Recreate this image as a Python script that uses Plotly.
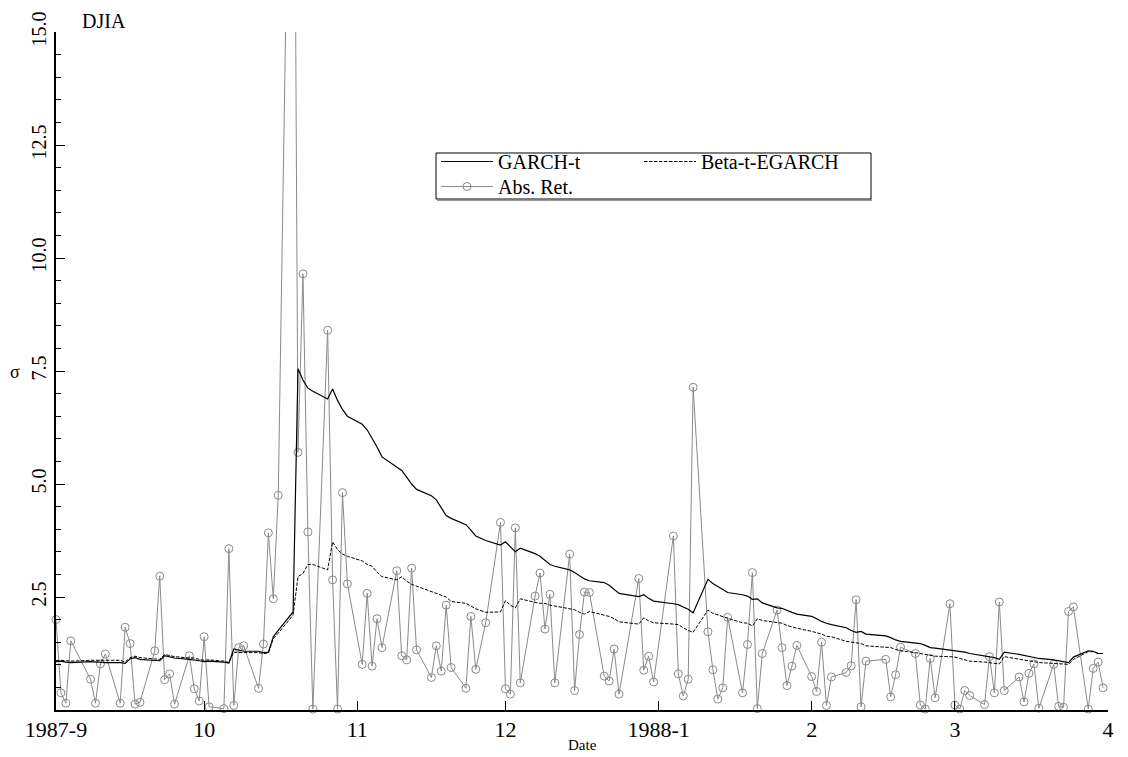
import plotly.graph_objects as go

# ---- trading days (calendar date axis) ----
sep_days = [1, 2, 3, 4, 8, 9, 10, 11, 14, 15, 16, 17, 18, 21, 22, 23, 24, 25, 28, 29, 30]
oct_days = [1, 2, 5, 6, 7, 8, 9, 12, 13, 14, 15, 16, 19, 20, 21, 22, 23, 26, 27, 28, 29, 30]
nov_days = [2, 3, 4, 5, 6, 9, 10, 11, 12, 13, 16, 17, 18, 19, 20, 23, 24, 25, 27, 30]
dec_days = [1, 2, 3, 4, 7, 8, 9, 10, 11, 14, 15, 16, 17, 18, 21, 22, 23, 24, 28, 29, 30, 31]
jan_days = [4, 5, 6, 7, 8, 11, 12, 13, 14, 15, 18, 19, 20, 21, 22, 25, 26, 27, 28, 29]
feb_days = [1, 2, 3, 4, 5, 8, 9, 10, 11, 12, 16, 17, 18, 19, 22, 23, 24, 25, 26, 29]
mar_days = [1, 2, 3, 4, 7, 8, 9, 10, 11, 14, 15, 16, 17, 18, 21, 22, 23, 24, 25, 28, 29, 30, 31]

months = [("1987-09", sep_days), ("1987-10", oct_days), ("1987-11", nov_days),
          ("1987-12", dec_days), ("1988-01", jan_days), ("1988-02", feb_days),
          ("1988-03", mar_days)]
dates = [f"{m}-{d:02d}" for m, days in months for d in days]

# ---- absolute returns ----
abs_sep = [2.00, 0.38, 0.15, 1.53, 0.68, 0.15, 1.02, 1.24, 0.15, 1.83, 1.47, 0.13, 0.17, 1.31, 2.96, 0.67, 0.80, 0.13, 1.20, 0.47, 0.20]
abs_oct = [1.62, 0.07, 0.03, 3.57, 0.10, 1.38, 1.42, 0.48, 1.46, 3.92, 2.46, 4.75, 25.6, 5.70, 9.65, 3.94, 0.02, 8.40, 2.88, 0.02, 4.81, 2.79]
abs_nov = [1.01, 2.58, 0.97, 2.02, 1.38, 3.08, 1.20, 1.11, 3.14, 1.33, 0.72, 1.42, 0.86, 2.32, 0.94, 0.48, 2.07, 0.90, 1.93, 4.15]
abs_dec = [0.47, 0.35, 4.03, 0.60, 2.52, 3.03, 1.79, 2.56, 0.60, 3.45, 0.43, 1.67, 2.61, 2.60, 0.75, 0.64, 1.35, 0.35, 2.91, 0.88, 1.19, 0.62]
abs_jan = [3.85, 0.80, 0.31, 0.68, 7.14, 1.73, 0.89, 0.24, 0.49, 2.05, 0.38, 1.45, 3.04, 0.03, 1.25, 2.21, 1.38, 0.54, 0.97, 1.43]
abs_feb = [0.74, 0.41, 1.50, 0.10, 0.73, 0.83, 0.98, 2.44, 0.07, 1.08, 1.12, 0.29, 0.78, 1.39, 1.25, 0.11, 0.02, 1.14, 0.27, 2.35]
abs_mar = [0.11, 0.02, 0.43, 0.32, 0.12, 1.18, 0.38, 2.39, 0.43, 0.73, 0.18, 0.81, 1.02, 0.04, 1.01, 0.08, 0.06, 2.18, 2.28, 0.02, 0.92, 1.06, 0.49]
abs_ret = abs_sep + abs_oct + abs_nov + abs_dec + abs_jan + abs_feb + abs_mar

# ---- GARCH-t volatility ----
g_sep = [1.07, 1.08, 1.06, 1.05, 1.07, 1.06, 1.05, 1.05, 1.05, 1.03, 1.13, 1.16, 1.12, 1.10, 1.09, 1.20, 1.17, 1.15, 1.12, 1.11, 1.09]
g_oct = [1.07, 1.08, 1.06, 1.04, 1.35, 1.32, 1.30, 1.30, 1.27, 1.28, 1.62, 1.76, 2.17, 7.55, 7.30, 7.12, 7.05, 6.88, 7.10, 6.85, 6.65, 6.50]
g_nov = [6.32, 6.20, 6.02, 5.82, 5.60, 5.38, 5.30, 5.15, 5.00, 4.88, 4.74, 4.65, 4.48, 4.30, 4.24, 4.10, 3.98, 3.85, 3.75, 3.65]
g_dec = [3.72, 3.62, 3.50, 3.58, 3.46, 3.40, 3.32, 3.22, 3.18, 3.10, 3.04, 2.96, 2.90, 2.86, 2.82, 2.76, 2.68, 2.58, 2.51, 2.55, 2.47, 2.41]
g_jan = [2.35, 2.33, 2.28, 2.23, 2.15, 2.89, 2.80, 2.73, 2.66, 2.60, 2.55, 2.52, 2.45, 2.46, 2.37, 2.26, 2.25, 2.20, 2.16, 2.12]
g_feb = [2.07, 2.02, 1.96, 1.92, 1.89, 1.82, 1.76, 1.72, 1.74, 1.68, 1.64, 1.60, 1.55, 1.52, 1.49, 1.47, 1.43, 1.38, 1.37, 1.33]
g_mar = [1.32, 1.30, 1.28, 1.25, 1.20, 1.18, 1.16, 1.12, 1.28, 1.23, 1.21, 1.19, 1.16, 1.14, 1.11, 1.09, 1.07, 1.05, 1.17, 1.31, 1.30, 1.25, 1.25]
garch_t = g_sep + g_oct + g_nov + g_dec + g_jan + g_feb + g_mar

# ---- Beta-t-EGARCH volatility ----
b_sep = [1.09, 1.10, 1.09, 1.08, 1.10, 1.10, 1.10, 1.09, 1.10, 1.06, 1.16, 1.19, 1.16, 1.13, 1.12, 1.23, 1.20, 1.18, 1.15, 1.15, 1.12]
b_oct = [1.10, 1.11, 1.08, 1.05, 1.28, 1.27, 1.27, 1.27, 1.25, 1.26, 1.58, 1.70, 2.10, 2.95, 3.02, 3.22, 3.22, 3.10, 3.72, 3.55, 3.45, 3.40]
b_nov = [3.30, 3.22, 3.18, 3.05, 2.95, 2.88, 2.95, 2.85, 2.78, 2.74, 2.62, 2.58, 2.54, 2.50, 2.40, 2.36, 2.30, 2.24, 2.16, 2.17]
b_dec = [2.42, 2.32, 2.26, 2.46, 2.38, 2.36, 2.36, 2.32, 2.30, 2.24, 2.22, 2.16, 2.12, 2.18, 2.10, 2.07, 2.02, 1.95, 1.90, 2.04, 1.97, 1.93]
b_jan = [1.90, 1.89, 1.82, 1.76, 1.72, 2.21, 2.14, 2.10, 2.06, 2.03, 1.93, 1.92, 1.86, 2.02, 1.98, 1.93, 1.92, 1.87, 1.84, 1.81]
b_feb = [1.74, 1.71, 1.68, 1.63, 1.62, 1.52, 1.50, 1.49, 1.47, 1.42, 1.40, 1.38, 1.34, 1.31, 1.27, 1.25, 1.22, 1.20, 1.19, 1.18]
b_mar = [1.17, 1.14, 1.11, 1.08, 1.06, 1.05, 1.04, 1.02, 1.18, 1.12, 1.10, 1.08, 1.07, 1.05, 1.03, 1.02, 1.01, 1.01, 1.12, 1.29, 1.29, 1.25, 1.25]
beta_t_egarch = b_sep + b_oct + b_nov + b_dec + b_jan + b_feb + b_mar

# ---- axis ticks ----
x_tickvals = ["1987-09-01", "1987-10-01", "1987-11-01", "1987-12-01",
              "1988-01-01", "1988-02-01", "1988-03-01", "1988-04-01"]
x_ticktext = ["1987-9", "10", "11", "12", "1988-1", "2", "3", "4"]
y_tickvals = [2.5, 5.0, 7.5, 10.0, 12.5, 15.0]
y_ticktext = ["2.5", "5.0", "7.5", "10.0", "12.5", "15.0"]

FONT = "Liberation Serif"
GREY = "#8a8a8a"

fig = go.Figure()
fig.add_trace(go.Scatter(
    x=dates, y=abs_ret, name="Abs. Ret.", mode="lines+markers",
    line=dict(color=GREY, width=1),
    marker=dict(symbol="circle-open", size=8, color=GREY, line=dict(width=1)),
    cliponaxis=False, legend="legend3"))
fig.add_trace(go.Scatter(
    x=dates, y=beta_t_egarch, name="Beta-t-EGARCH", mode="lines",
    line=dict(color="black", width=1, dash="3.5px,1.5px"),
    legend="legend2"))
fig.add_trace(go.Scatter(
    x=dates, y=garch_t, name="GARCH-t", mode="lines",
    line=dict(color="black", width=1.2),
    legend="legend"))

W, H = 1128, 757
L, R, T, B = 56, 20, 32, 47
pw, ph = W - L - R, H - T - B


def px(xp):
    return (xp - L) / pw


def py(yp):
    return (H - B - yp) / ph


leg_common = dict(xanchor="left", yanchor="top", bgcolor="rgba(0,0,0,0)",
                  borderwidth=0, itemwidth=52, font=dict(family=FONT, size=20))

fig.update_layout(
    width=W, height=H,
    margin=dict(l=L, r=R, t=T, b=B, autoexpand=False),
    paper_bgcolor="white", plot_bgcolor="white",
    font=dict(family=FONT, size=20, color="black"),
    showlegend=True,
    legend=dict(x=px(436), y=py(142), **leg_common),
    legend2=dict(x=px(639), y=py(142), **leg_common),
    legend3=dict(x=px(436), y=py(167), **leg_common),
    xaxis=dict(
        type="date", range=["1987-09-01", "1988-04-01"],
        tickmode="array", tickvals=x_tickvals, ticktext=x_ticktext,
        ticks="inside", ticklen=9, tickcolor="black", tickwidth=1,
        showline=True, linecolor="black", linewidth=1.5,
        showgrid=False, zeroline=False, automargin=False,
        tickfont=dict(family=FONT, size=22), ticklabelstandoff=-1,
    ),
    yaxis=dict(
        range=[0, 15], tickmode="array", tickvals=y_tickvals, ticktext=y_ticktext,
        tickangle=-90, ticks="inside", ticklen=9, tickcolor="black", tickwidth=1,
        minor=dict(dtick=0.5, ticks="inside", ticklen=5, tickcolor="black"),
        showline=True, linecolor="black", linewidth=1.5,
        showgrid=False, zeroline=False, automargin=False,
        tickfont=dict(family=FONT, size=20),
    ),
    shapes=[
        dict(type="rect", xref="paper", yref="paper",
             x0=px(436), x1=px(871), y0=py(199), y1=py(153),
             line=dict(color="black", width=1), fillcolor="rgba(0,0,0,0)"),
        dict(type="line", xref="paper", yref="paper",
             x0=px(437), x1=px(872), y0=py(200), y1=py(200),
             line=dict(color="#777777", width=1.5)),
    ],
    annotations=[
        dict(text="DJIA", xref="paper", yref="paper", x=px(80), y=py(21),
             xanchor="left", yanchor="middle", showarrow=False,
             font=dict(family=FONT, size=20)),
        dict(text="σ", xref="paper", yref="paper", x=px(15), y=py(372),
             xanchor="center", yanchor="middle", showarrow=False,
             font=dict(family=FONT, size=18)),
        dict(text="Date", xref="paper", yref="paper", x=0.5, y=py(745),
             xanchor="center", yanchor="middle", showarrow=False,
             font=dict(family=FONT, size=15)),
    ],
)

fig.write_html("out.html",
               config={"displayModeBar": False},
               post_script="document.body.style.margin='0px';"
                           "document.documentElement.style.overflow='hidden';")
